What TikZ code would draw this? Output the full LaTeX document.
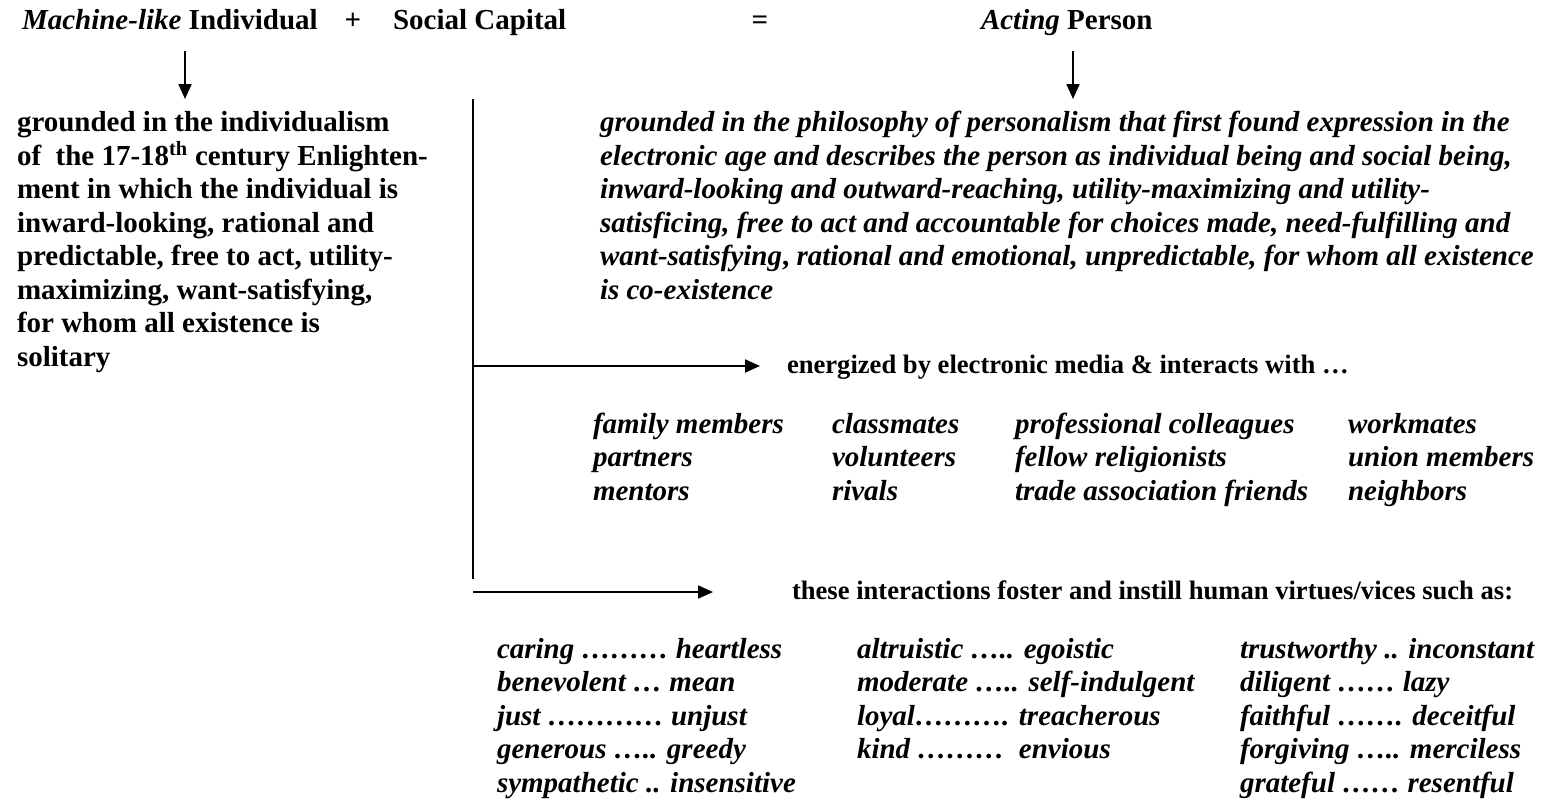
\documentclass[tikz,border=0pt]{standalone}
\usepackage{fontspec}
\setmainfont{Liberation Serif}
\usetikzlibrary{arrows.meta}
% lines stacked flush left; the box sits on the baseline of its first line
\newcommand\linestack[1]{\vtop{\halign{##\hfil\cr#1\crcr}}}
\begin{document}
\begin{tikzpicture}[x=1pt,y=-1pt,
  txt/.style={anchor=base west, inner sep=0pt, outer sep=0pt,
    font=\fontsize{29}{33.5}\selectfont\bfseries},
  itxt/.style={txt, font=\fontsize{29}{33.5}\selectfont\bfseries\itshape},
  small/.style={txt, font=\fontsize{26.6}{30.6}\selectfont\bfseries},
  arr/.style={line width=2pt, -{Triangle[length=15pt,width=13pt]}},
  trunk/.style={line width=2pt}]
\useasboundingbox (0,0) rectangle (1560,809);

% equation in the heading
\node[txt] (mi) at (22,29) {\textit{Machine-like} Individual};
\node[txt, anchor=base] (plus) at (353,29) {+};
\node[txt] (sc) at (393,29) {Social Capital};
\node[txt, anchor=base] (eq) at (760,29) {=};
\node[txt] (ap) at (981,29) {\textit{Acting} Person};

% the individualist view
\node[txt] (ind) at (17,131.5) {\linestack{grounded in the individualism\cr
of\ \ the 17-18\textsuperscript{th} century Enlighten-\cr
ment in which the individual is\cr
inward-looking, rational and\cr
predictable, free to act, utility-\cr
maximizing, want-satisfying,\cr
for whom all existence is\cr
solitary}};

% the personalist view
\node[itxt] (pers) at (600,131.5) {\linestack{grounded in the philosophy of personalism that first found expression in the\cr
electronic age and describes the person as individual being and social being,\cr
inward-looking and outward-reaching, utility-maximizing and utility-\cr
satisficing, free to act and accountable for choices made, need-fulfilling and\cr
want-satisfying\textup{,} rational and emotional, unpredictable, for whom all existence\cr
is co-existence}};

% arrows from the heading
\coordinate (mi-from) at (185,51);
\coordinate (mi-to) at (185,99);
\coordinate (ap-from) at (1073,51);
\coordinate (ap-to) at (1073,99);
\draw[arr] (mi-from) -- (mi-to);
\draw[arr] (ap-from) -- (ap-to);

% interactions
\node[small] (en) at (787,373) {energized by electronic media \& interacts with …};
\node[itxt] (g1) at (593,433) {\linestack{family members\cr partners\cr mentors}};
\node[itxt] (g2) at (832,433) {\linestack{classmates\cr volunteers\cr rivals}};
\node[itxt] (g3) at (1015,433) {\linestack{professional colleagues\cr fellow religionists\cr trade association friends}};
\node[itxt] (g4) at (1348,433) {\linestack{workmates\cr union members\cr neighbors}};

% virtues and vices
\node[small] (th) at (792,599) {these interactions foster and instill human virtues/vices such as:};
\node[itxt] (v1) at (497,658) {\linestack{caring ……… heartless\cr benevolent … mean\cr just ………… unjust\cr generous ….. greedy\cr sympathetic .. insensitive}};
\node[itxt] (v2) at (857,658) {\linestack{altruistic ….. egoistic\cr moderate ….. self-indulgent\cr loyal………. treacherous\cr kind ………\ \ envious}};
\node[itxt] (v3) at (1240,658) {\linestack{trustworthy .. inconstant\cr diligent …… lazy\cr faithful ……. deceitful\cr forgiving ….. merciless\cr grateful …… resentful}};

% trunk and branches
\coordinate (tr-top) at (473,99);
\coordinate (tr-bot) at (473,579);
\draw[trunk] (tr-top) -- (tr-bot);
\coordinate (b1) at (473,366);
\coordinate (b1-tip) at (760,366);
\draw[arr] (b1) -- (b1-tip);
\coordinate (b2) at (473,592);
\coordinate (b2-tip) at (713,592);
\draw[arr] (b2) -- (b2-tip);
\end{tikzpicture}
\end{document}
